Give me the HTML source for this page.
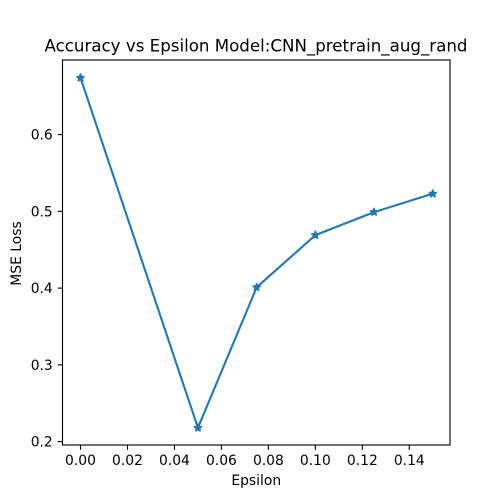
<!DOCTYPE html>
<html>
<head>
<meta charset="utf-8">
<style>
html,body{margin:0;padding:0;background:#fff;}
svg{display:block;}
text{font-family:"DejaVu Sans",sans-serif;fill:#000;}
</style>
</head>
<body>
<svg id="chart" xmlns="http://www.w3.org/2000/svg" width="500" height="500" viewBox="0 0 500 500">
<rect x="0" y="0" width="500" height="500" fill="#ffffff"/>
<text x="256" y="51.7" font-size="16.67" text-anchor="middle">Accuracy vs Epsilon Model:CNN_pretrain_aug_rand</text>
<g id="ticks-layer"></g>
<g id="series-layer"></g>
<rect x="62.5" y="60" width="387.5" height="385" fill="none" stroke="#000" stroke-width="1.11"/>
<text x="256.25" y="485" font-size="13.89" text-anchor="middle">Epsilon</text>
<text x="21" y="253.5" font-size="13.89" text-anchor="middle" transform="rotate(-90 21 253.5)">MSE Loss</text>
</svg>
<script>
var epsilons = [0, 0.05, 0.075, 0.1, 0.125, 0.15];
var mseLoss = [0.674, 0.218, 0.401, 0.469, 0.499, 0.523];
var xTickValues = [0, 0.02, 0.04, 0.06, 0.08, 0.10, 0.12, 0.14];
var xTickLabels = ["0.00", "0.02", "0.04", "0.06", "0.08", "0.10", "0.12", "0.14"];
var yTickValues = [0.2, 0.3, 0.4, 0.5, 0.6];
var yTickLabels = ["0.2", "0.3", "0.4", "0.5", "0.6"];

var NS = 'http://www.w3.org/2000/svg';
var plot = {left: 62.5, right: 450, top: 60, bottom: 445};
var xLo = Math.min.apply(null, epsilons), xHi = Math.max.apply(null, epsilons);
var yLo = Math.min.apply(null, mseLoss), yHi = Math.max.apply(null, mseLoss);
var xPad = (xHi - xLo) * 0.05, yPad = (yHi - yLo) * 0.05;
function xScale(v) {
  return 0.4 + plot.left + (v - (xLo - xPad)) / ((xHi + xPad) - (xLo - xPad)) * (plot.right - plot.left);
}
function yScale(v) {
  return 0.3 + plot.bottom - (v - (yLo - yPad)) / ((yHi + yPad) - (yLo - yPad)) * (plot.bottom - plot.top);
}
function make(tag, attrs) {
  var el = document.createElementNS(NS, tag);
  for (var k in attrs) el.setAttribute(k, attrs[k]);
  return el;
}
var ticksLayer = document.getElementById('ticks-layer');
var seriesLayer = document.getElementById('series-layer');

xTickValues.forEach(function (v, i) {
  var x = xScale(v);
  var tick = make('line', {x1: x, x2: x, y1: plot.bottom, y2: plot.bottom + 4.86, stroke: '#000', 'stroke-width': 1.11});
  
  
  ticksLayer.appendChild(tick);
  var label = make('text', {x: x, y: 465.2, 'font-size': 13.89, 'text-anchor': 'middle'});
  
  
  label.textContent = xTickLabels[i];
  ticksLayer.appendChild(label);
});

yTickValues.forEach(function (v, i) {
  var y = yScale(v);
  var tick = make('line', {x1: plot.left - 4.86, x2: plot.left, y1: y, y2: y, stroke: '#000', 'stroke-width': 1.11});
  
  
  ticksLayer.appendChild(tick);
  var label = make('text', {x: plot.left - 9.72, y: y + 5.1, 'font-size': 13.89, 'text-anchor': 'end'});
  
  
  label.textContent = yTickLabels[i];
  ticksLayer.appendChild(label);
});

var linePoints = epsilons.map(function (e, i) {
  return xScale(e) + ',' + yScale(mseLoss[i]);
}).join(' ');
var seriesLine = make('polyline', {points: linePoints, fill: 'none', stroke: '#1f77b4', 'stroke-width': 2.08, 'stroke-linejoin': 'round', 'stroke-linecap': 'square'});


seriesLayer.appendChild(seriesLine);

function starPoints(cx, cy) {
  var outer = 4.17, inner = outer * 0.381966, pts = [];
  for (var k = 0; k < 10; k++) {
    var r = k % 2 ? inner : outer;
    var a = k * Math.PI / 5;
    pts.push((cx + r * Math.sin(a)) + ',' + (cy - r * Math.cos(a)));
  }
  return pts.join(' ');
}
epsilons.forEach(function (e, i) {
  var star = make('polygon', {points: starPoints(xScale(e), yScale(mseLoss[i])), fill: '#1f77b4', stroke: '#1f77b4', 'stroke-width': 1.39, 'stroke-linejoin': 'bevel'});
  
  
  seriesLayer.appendChild(star);
});
</script>
</body>
</html>
